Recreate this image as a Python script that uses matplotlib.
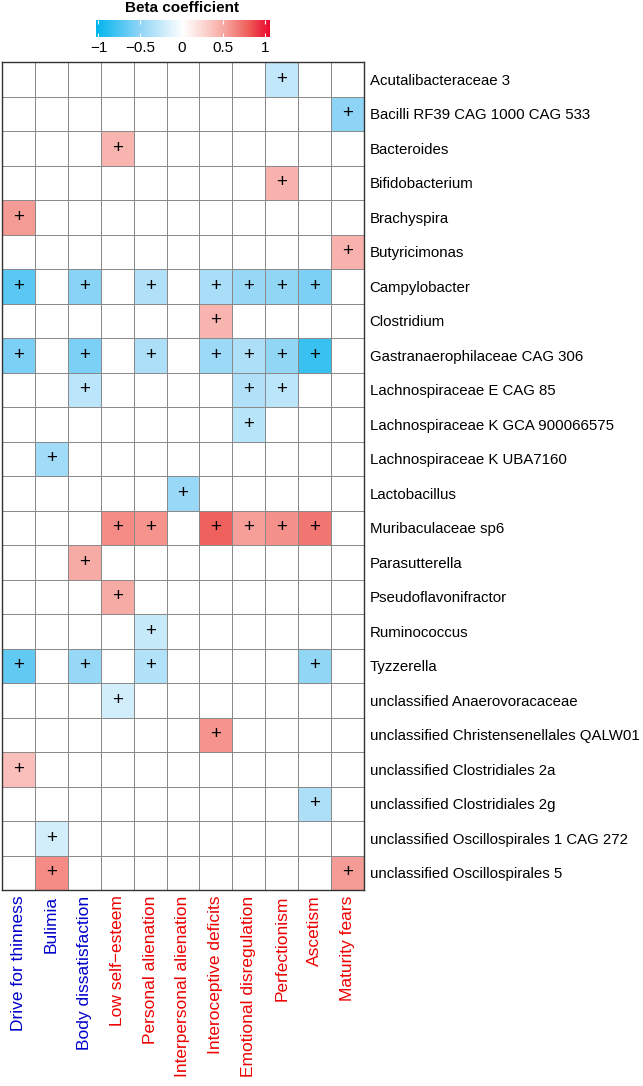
import numpy as np
import matplotlib
matplotlib.use("Agg")
import matplotlib.pyplot as plt
from matplotlib.colors import LinearSegmentedColormap, Normalize
import matplotlib.cm as cm

plt.rcParams['font.family'] = ['Liberation Sans', 'DejaVu Sans']

columns = ["Drive for thinness", "Bulimia", "Body dissatisfaction", "Low self\u2212esteem",
           "Personal alienation", "Interpersonal alienation", "Interoceptive deficits",
           "Emotional disregulation", "Perfectionism", "Ascetism", "Maturity fears"]
column_colors = ["#0000CC"] * 3 + ["#EE0000"] * 8

rows = ["Acutalibacteraceae 3", "Bacilli RF39 CAG 1000 CAG 533", "Bacteroides",
        "Bifidobacterium", "Brachyspira", "Butyricimonas", "Campylobacter", "Clostridium",
        "Gastranaerophilaceae CAG 306", "Lachnospiraceae E CAG 85",
        "Lachnospiraceae K GCA 900066575", "Lachnospiraceae K UBA7160", "Lactobacillus",
        "Muribaculaceae sp6", "Parasutterella", "Pseudoflavonifractor", "Ruminococcus",
        "Tyzzerella", "unclassified Anaerovoracaceae",
        "unclassified Christensenellales QALW01", "unclassified Clostridiales 2a",
        "unclassified Clostridiales 2g", "unclassified Oscillospirales 1 CAG 272",
        "unclassified Oscillospirales 5"]

# significant associations: (row, column, beta)
sig_rows = ["Acutalibacteraceae 3", "Bacilli RF39 CAG 1000 CAG 533", "Bacteroides",
            "Bifidobacterium", "Brachyspira", "Butyricimonas",
            "Campylobacter", "Campylobacter", "Campylobacter", "Campylobacter",
            "Campylobacter", "Campylobacter", "Campylobacter",
            "Clostridium",
            "Gastranaerophilaceae CAG 306", "Gastranaerophilaceae CAG 306",
            "Gastranaerophilaceae CAG 306", "Gastranaerophilaceae CAG 306",
            "Gastranaerophilaceae CAG 306", "Gastranaerophilaceae CAG 306",
            "Gastranaerophilaceae CAG 306",
            "Lachnospiraceae E CAG 85", "Lachnospiraceae E CAG 85", "Lachnospiraceae E CAG 85",
            "Lachnospiraceae K GCA 900066575", "Lachnospiraceae K UBA7160", "Lactobacillus",
            "Muribaculaceae sp6", "Muribaculaceae sp6", "Muribaculaceae sp6",
            "Muribaculaceae sp6", "Muribaculaceae sp6", "Muribaculaceae sp6",
            "Parasutterella", "Pseudoflavonifractor", "Ruminococcus",
            "Tyzzerella", "Tyzzerella", "Tyzzerella", "Tyzzerella",
            "unclassified Anaerovoracaceae", "unclassified Christensenellales QALW01",
            "unclassified Clostridiales 2a", "unclassified Clostridiales 2g",
            "unclassified Oscillospirales 1 CAG 272",
            "unclassified Oscillospirales 5", "unclassified Oscillospirales 5"]
sig_cols = [8, 10, 3, 8, 0, 10,
            0, 2, 4, 6, 7, 8, 9,
            6,
            0, 2, 4, 6, 7, 8, 9,
            2, 7, 8,
            7, 1, 5,
            3, 4, 6, 7, 8, 9,
            2, 3, 4,
            0, 2, 4, 9,
            3, 6, 0, 9, 1,
            1, 10]
sig_beta = [-0.28, -0.5, 0.4, 0.42, 0.52, 0.42,
            -0.68, -0.52, -0.35, -0.38, -0.46, -0.48, -0.56,
            0.4,
            -0.56, -0.56, -0.36, -0.44, -0.36, -0.48, -0.8,
            -0.3, -0.35, -0.3,
            -0.32, -0.42, -0.45,
            0.58, 0.55, 0.74, 0.5, 0.56, 0.66,
            0.45, 0.45, -0.25,
            -0.66, -0.46, -0.34, -0.48,
            -0.2, 0.55, 0.35, -0.36, -0.2,
            0.58, 0.52]

nr, nc = len(rows), len(columns)
mat = np.zeros((nr, nc))
for r, c, b in zip(sig_rows, sig_cols, sig_beta):
    mat[rows.index(r), c] = b

cmap = LinearSegmentedColormap.from_list(
    "beta", [(0.0, "#00B4EE"), (0.25, "#8ED4F6"), (0.5, "#FFFFFF"),
             (0.625, "#FCD3CF"), (0.75, "#F6A19B"), (0.875, "#EF5F5A"),
             (1.0, "#E8082E")])
norm = Normalize(-1, 1)

W, H = 643, 1086
fig = plt.figure(figsize=(W / 100, H / 100), dpi=100)
ax = fig.add_axes([2 / W, 196 / H, 362 / W, 828 / H])
ax.pcolormesh(np.arange(nc + 1), np.arange(nr + 1), mat, cmap=cmap, norm=norm,
              edgecolors="#8a8a8a", linewidth=0.7)
ax.set_xlim(0, nc)
ax.set_ylim(nr, 0)
for sp in ax.spines.values():
    sp.set_color("#333333")
    sp.set_linewidth(1.0)
for r, c in zip(sig_rows, sig_cols):
    ax.text(c + 0.5, rows.index(r) + 0.5, "+", ha="center", va="center",
            fontsize=13.5, color="black")

ax.set_xticks(np.arange(nc) + 0.5)
ax.set_xticklabels(columns, rotation=90, fontsize=12.5)
for lbl, col in zip(ax.get_xticklabels(), column_colors):
    lbl.set_color(col)
ax.set_yticks(np.arange(nr) + 0.5)
ax.set_yticklabels(rows, fontsize=10.8)
ax.yaxis.tick_right()
ax.tick_params(axis="both", length=0, pad=4)

# colorbar legend
cax = fig.add_axes([96 / W, (H - 37) / H, 174 / W, 17 / H])
sm = cm.ScalarMappable(norm=Normalize(-1.03, 1.06), cmap=cmap)
cb = fig.colorbar(sm, cax=cax, orientation="horizontal")
cb.outline.set_visible(False)
cb.set_ticks([-1, -0.5, 0, 0.5, 1])
cb.set_ticklabels(["\u22121", "\u22120.5", "0", "0.5", "1"])
cax.tick_params(axis="x", direction="in", color="white", length=3, width=0.8,
                labelsize=11, pad=3)
cax.xaxis.set_ticks_position("both")
cax.xaxis.set_label_position("bottom")
fig.text(182 / W, (H - 8) / H, "Beta coefficient", ha="center", va="center",
         fontsize=11, fontweight="bold")

fig.savefig("out.png", dpi=100)
